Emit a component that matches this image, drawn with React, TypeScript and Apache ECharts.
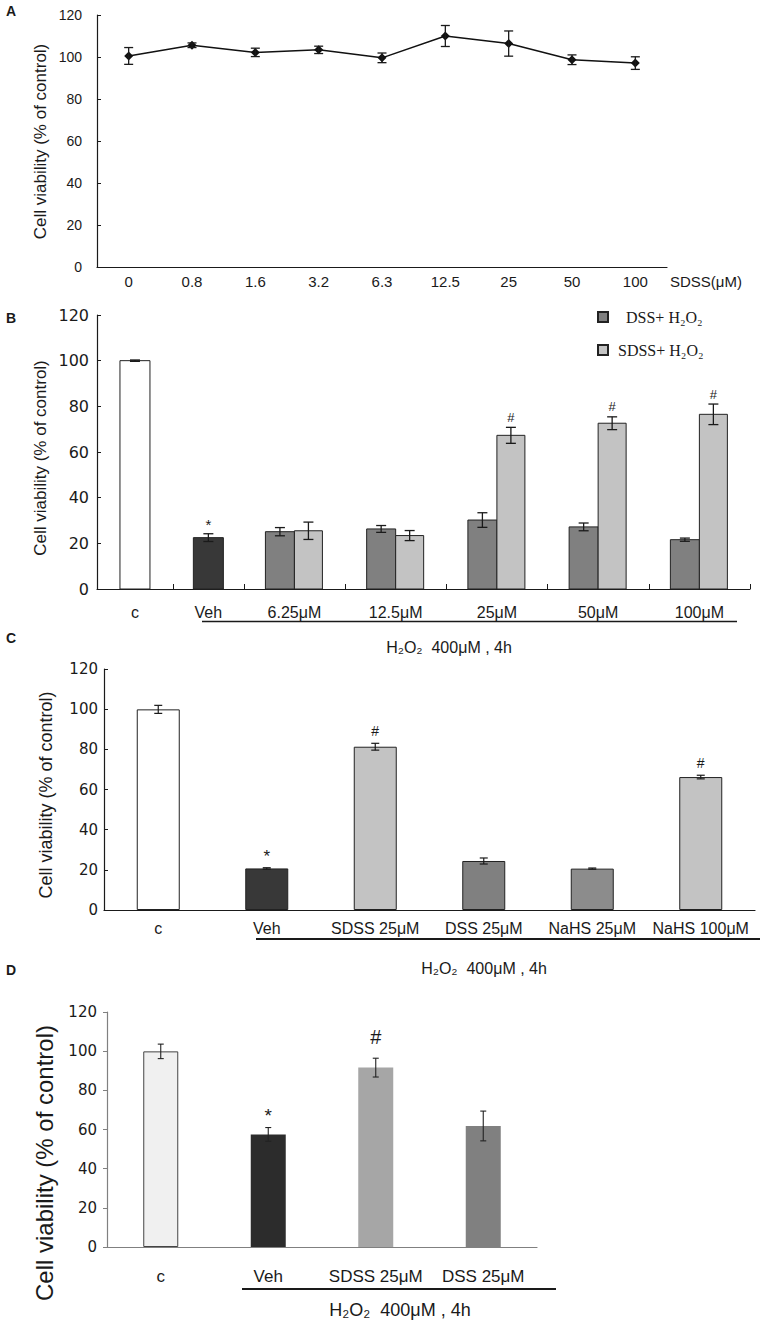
import React, { useEffect, useRef } from "react";
import * as echarts from "echarts";

// ---------------- Panel A ----------------
const aDoses = ["0", "0.8", "1.6", "3.2", "6.3", "12.5", "25", "50", "100"];
const aViability = [100.5, 105.6, 102.2, 103.4, 99.6, 110.0, 106.4, 98.7, 97.1];
const aSem = [4.0, 1.1, 2.0, 1.75, 2.3, 5.0, 6.0, 2.3, 3.0];

// ---------------- Panel B ----------------
const bGroups = ["c", "Veh", "6.25μM", "12.5μM", "25μM", "50μM", "100μM"];
const bControl = [100.0];
const bControlSem = [0.3];
const bVehicle = [22.5];
const bVehicleSem = [1.7];
const bVehicleSig = ["*"];
const bDss = [25.1, 26.3, 30.2, 27.2, 21.6];
const bDssSem = [1.8, 1.5, 3.2, 1.7, 0.7];
const bSdss = [25.5, 23.4, 67.3, 72.6, 76.5];
const bSdssSem = [3.8, 2.2, 3.5, 2.8, 4.5];
const bSdssSig = ["", "", "#", "#", "#"];
const bLegend = ["DSS+ H₂O₂", "SDSS+ H₂O₂"];

// ---------------- Panel C ----------------
const cGroups = ["c", "Veh", "SDSS 25μM", "DSS 25μM", "NaHS 25μM", "NaHS 100μM"];
const cViability = [99.9, 20.7, 81.3, 24.4, 20.6, 66.2];
const cSem = [2.0, 0.35, 1.7, 1.5, 0.3, 0.9];
const cSig = ["", "*", "#", "", "", "#"];

// ---------------- Panel D ----------------
const dGroups = ["c", "Veh", "SDSS 25μM", "DSS 25μM"];
const dViability = [99.9, 57.5, 91.6, 61.8];
const dSem = [3.7, 3.5, 4.8, 7.6];
const dSig = ["", "*", "#", ""];

const yTitle = "Cell viability (% of control)";
const treatment = "H₂O₂  400μM , 4h";
const aAxisName = "SDSS(μM)";

// ---------------- styles / layout ----------------
const SANS = "Arial, 'Liberation Sans', Helvetica, sans-serif";
const DEJAVU = "'DejaVu Sans', Arial, sans-serif";
const SERIF = "'Liberation Serif', 'Times New Roman', serif";
const INK = "#1a1a1a";
const BORDER = "#222";

// relative widths of panel B's category slots (the first two are narrower)
const bSlotWidths = [1.5, 1.4, 2, 2, 2, 2, 2];
const cColors = ["#ffffff", "#383838", "#c3c3c3", "#808080", "#8c8c8c", "#c3c3c3"];
const dColors = ["#f0f0f0", "#2c2c2c", "#a6a6a6", "#808080"];

function errorBars(
  xi: number,
  yi: number,
  points: number[][],
  sems: number[],
  sigs: string[] | null,
  o: any
) {
  return {
    type: "custom",
    xAxisIndex: xi,
    yAxisIndex: yi,
    z: 5,
    silent: true,
    data: points,
    encode: { x: 0, y: 1 },
    renderItem: (params: any, api: any) => {
      const i = params.dataIndex;
      const x = api.value(0);
      const y = api.value(1);
      const e = sems[i];
      const hi = api.coord([x, y + e]);
      const lo = api.coord([x, y - e]);
      const cx = hi[0] + (o.dx || 0);
      const st = { stroke: o.color || INK, lineWidth: o.lw };
      const children: any[] = [
        { type: "line", shape: { x1: cx, y1: hi[1], x2: cx, y2: lo[1] }, style: st },
        { type: "line", shape: { x1: cx - o.cap / 2, y1: hi[1], x2: cx + o.cap / 2, y2: hi[1] }, style: st },
        { type: "line", shape: { x1: cx - o.cap / 2, y1: lo[1], x2: cx + o.cap / 2, y2: lo[1] }, style: st },
      ];
      const s = sigs ? sigs[i] : "";
      if (s) {
        children.push({
          type: "text",
          x: cx,
          y: hi[1] - o.gap[s],
          style: {
            text: s,
            fill: INK,
            fontSize: o.size[s],
            fontFamily: SANS,
            textAlign: "center",
            textVerticalAlign: "middle",
          },
        });
      }
      return { type: "group", children };
    },
  };
}

function customBars(name: string, points: number[][], color: string, side: string, width: number) {
  return {
    type: "custom",
    name,
    xAxisIndex: 1,
    yAxisIndex: 1,
    z: 2,
    silent: true,
    itemStyle: { color, borderColor: BORDER, borderWidth: 1 },
    data: points,
    encode: { x: 0, y: 1 },
    renderItem: (params: any, api: any) => {
      const base = api.coord([api.value(0), 0]);
      const top = api.coord([api.value(0), api.value(1)]);
      const left = side === "left" ? base[0] - width : side === "right" ? base[0] : base[0] - width / 2;
      return {
        type: "rect",
        shape: { x: left, y: top[1], width, height: base[1] - top[1] },
        style: { fill: color, stroke: BORDER, lineWidth: 1 },
      };
    },
  };
}

function yAxisCfg(gi: number, o: any) {
  return {
    type: "value",
    gridIndex: gi,
    min: 0,
    max: 120,
    interval: 20,
    axisLine: { show: true, lineStyle: { color: o.lineColor || INK, width: o.lw || 1.2 } },
    axisTick: { show: true, inside: o.inside, length: 4, lineStyle: { color: o.lineColor || INK } },
    axisLabel: { color: INK, fontSize: o.fontSize, fontFamily: o.font, margin: o.margin },
    splitLine: { show: false },
  };
}

function txt(x: number, y: number, text: string, size: number, extra: any = {}) {
  return {
    type: "text",
    x,
    y,
    rotation: extra.rotation || 0,
    style: {
      text,
      fill: INK,
      fontSize: size,
      fontFamily: extra.font || SANS,
      fontWeight: extra.weight || "normal",
      textAlign: extra.align || "center",
      textVerticalAlign: "middle",
    },
  };
}

function hline(x1: number, x2: number, y: number, w: number) {
  return { type: "line", shape: { x1, y1: y, x2, y2: y }, style: { stroke: INK, lineWidth: w } };
}

export default function App() {
  const ref = useRef<HTMLDivElement>(null);

  useEffect(() => {
    document.body.style.margin = "0";
    if (!ref.current) return;
    const chart = echarts.init(ref.current, undefined, { renderer: "svg" });

    // panel B slot geometry on its value axis
    const bBounds: number[] = [];
    const bCenters: number[] = [];
    let acc = 0;
    bSlotWidths.forEach((w) => {
      bCenters.push(acc + w / 2);
      acc += w;
      bBounds.push(acc);
    });
    const bMax = acc;
    const bLabelFor = (v: number) => {
      let best = 0;
      bCenters.forEach((c, i) => {
        if (Math.abs(c - v) < Math.abs(bCenters[best] - v)) best = i;
      });
      return bGroups[best];
    };
    const bDoseCenters = bCenters.slice(2);

    const option: any = {
      animation: false,
      backgroundColor: "#ffffff",
      grid: [
        { left: 97, top: 15, width: 570, height: 252 },
        { left: 97, top: 315, width: 653, height: 274 },
        { left: 104, top: 669, width: 651, height: 241 },
        { left: 107, top: 1012, width: 430, height: 235 },
      ],
      legend: {
        show: true,
        orient: "vertical",
        left: 592,
        top: 304,
        itemWidth: 10,
        itemHeight: 10,
        itemGap: 17,
        icon: "rect",
        selectedMode: false,
        textStyle: { fontSize: 16, fontFamily: SERIF, color: INK },
        data: [
          { name: bLegend[0], textStyle: { padding: [0, 0, 0, 13] } },
          { name: bLegend[1], textStyle: { padding: [0, 0, 0, 5] } },
        ],
      },
      xAxis: [
        {
          type: "category",
          gridIndex: 0,
          data: aDoses,
          boundaryGap: true,
          axisLine: { lineStyle: { color: INK, width: 1.2 } },
          axisTick: { inside: true, length: 5, lineStyle: { color: INK } },
          axisLabel: { color: INK, fontSize: 15, fontFamily: SANS, margin: 7 },
          splitLine: { show: false },
        },
        {
          type: "value",
          gridIndex: 1,
          min: 0,
          max: bMax,
          axisLine: { show: true, lineStyle: { color: INK, width: 1.2 } },
          axisTick: { show: true, inside: true, length: 5, customValues: bBounds, lineStyle: { color: INK } },
          axisLabel: {
            show: true,
            customValues: bCenters,
            formatter: (v: number) => bLabelFor(v),
            color: INK,
            fontSize: 16,
            fontFamily: SANS,
            margin: 15,
          },
          splitLine: { show: false },
        },
        {
          type: "category",
          gridIndex: 2,
          data: cGroups,
          boundaryGap: true,
          axisLine: { lineStyle: { color: INK, width: 1.2 } },
          axisTick: { inside: true, length: 5, lineStyle: { color: INK } },
          axisLabel: { color: INK, fontSize: 16, fontFamily: SANS, margin: 10, interval: 0 },
          splitLine: { show: false },
        },
        {
          type: "category",
          gridIndex: 3,
          data: dGroups,
          boundaryGap: true,
          axisLine: { lineStyle: { color: "#808080", width: 1.2 } },
          axisTick: { inside: false, length: 4, lineStyle: { color: "#808080" } },
          axisLabel: { color: INK, fontSize: 17, fontFamily: SANS, margin: 21, interval: 0 },
          splitLine: { show: false },
        },
      ],
      yAxis: [
        yAxisCfg(0, { inside: true, fontSize: 14, font: SANS, margin: 15 }),
        yAxisCfg(1, { inside: true, fontSize: 16, font: DEJAVU, margin: 8 }),
        yAxisCfg(2, { inside: true, fontSize: 15, font: DEJAVU, margin: 6 }),
        yAxisCfg(3, { inside: false, fontSize: 15, font: DEJAVU, margin: 10, lineColor: "#808080" }),
      ],
      series: [
        // ---- A
        {
          type: "line",
          xAxisIndex: 0,
          yAxisIndex: 0,
          data: aViability,
          symbol: "diamond",
          symbolSize: 9,
          itemStyle: { color: "#111" },
          lineStyle: { color: "#111", width: 1.5 },
          z: 4,
          silent: true,
        },
        errorBars(0, 0, aViability.map((v, i) => [i, v]), aSem, null, { cap: 9, lw: 1.3 }),
        // ---- B
        customBars("Control B", [[bCenters[0], bControl[0]]], "#ffffff", "center", 30),
        customBars("Veh B", [[bCenters[1], bVehicle[0]]], "#383838", "center", 30),
        customBars(bLegend[0], bDss.map((v, i) => [bDoseCenters[i], v]), "#808080", "left", 29),
        customBars(bLegend[1], bSdss.map((v, i) => [bDoseCenters[i], v]), "#c3c3c3", "right", 28),
        errorBars(1, 1, [[bCenters[0], bControl[0]]], bControlSem, null, { cap: 10, lw: 1.3 }),
        errorBars(1, 1, [[bCenters[1], bVehicle[0]]], bVehicleSem, bVehicleSig, {
          cap: 10, lw: 1.3, gap: { "*": 9 }, size: { "*": 15 },
        }),
        errorBars(1, 1, bDss.map((v, i) => [bDoseCenters[i], v]), bDssSem, null, { cap: 10, lw: 1.3, dx: -14.5 }),
        errorBars(1, 1, bSdss.map((v, i) => [bDoseCenters[i], v]), bSdssSem, bSdssSig, {
          cap: 10, lw: 1.3, dx: 14, gap: { "#": 10 }, size: { "#": 13 },
        }),
        // ---- C
        {
          type: "bar",
          xAxisIndex: 2,
          yAxisIndex: 2,
          barWidth: 43,
          silent: true,
          data: cViability.map((v, i) => ({ value: v, itemStyle: { color: cColors[i] } })),
          itemStyle: { borderColor: BORDER, borderWidth: 1 },
        },
        errorBars(2, 2, cViability.map((v, i) => [i, v]), cSem, cSig, {
          cap: 8, lw: 1.2, gap: { "*": 11, "#": 12.5 }, size: { "*": 17, "#": 14 },
        }),
        // ---- D
        {
          type: "bar",
          xAxisIndex: 3,
          yAxisIndex: 3,
          barWidth: 35,
          silent: true,
          data: dViability.map((v, i) => ({
            value: v,
            itemStyle: i === 0 ? { color: dColors[i], borderColor: "#444", borderWidth: 1 } : { color: dColors[i] },
          })),
        },
        errorBars(3, 3, dViability.map((v, i) => [i, v]), dSem, dSig, {
          cap: 6, lw: 1.1, color: "#222", gap: { "*": 12, "#": 21 }, size: { "*": 19, "#": 20 },
        }),
      ],
      graphic: [
        txt(6, 11, "A", 14, { weight: "bold", align: "left" }),
        txt(6, 318, "B", 14, { weight: "bold", align: "left" }),
        txt(6, 638, "C", 14, { weight: "bold", align: "left" }),
        txt(6, 970, "D", 14, { weight: "bold", align: "left" }),
        txt(40, 141.5, yTitle, 17, { rotation: Math.PI / 2 }),
        txt(40, 458, yTitle, 17, { rotation: Math.PI / 2 }),
        txt(46, 795, yTitle, 18, { rotation: Math.PI / 2 }),
        txt(44, 1163, yTitle, 24, { rotation: Math.PI / 2 }),
        txt(670, 281, aAxisName, 15, { align: "left" }),
        hline(202, 737, 621.5, 1.5),
        txt(449, 647, treatment, 16),
        hline(256, 760, 939, 2),
        txt(484, 968, treatment, 16),
        hline(242, 556, 1289, 2),
        txt(400, 1310, treatment, 18),
      ],
    };

    chart.setOption(option);
    return () => {
      chart.dispose();
    };
  }, []);

  return <div ref={ref} style={{ width: 771, height: 1324, background: "#fff" }} />;
}
